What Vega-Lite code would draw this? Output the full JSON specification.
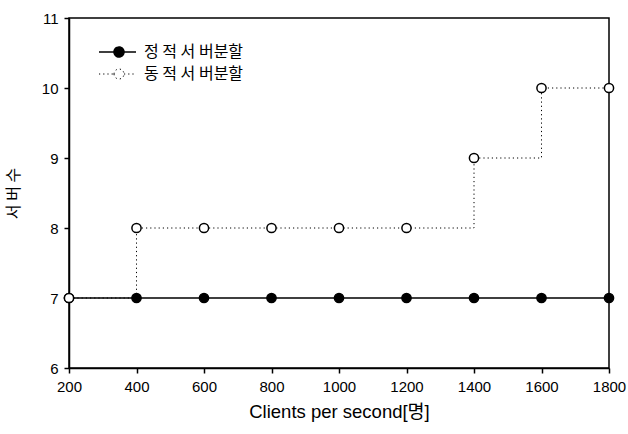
{
  "$schema": "https://vega.github.io/schema/vega-lite/v6.json",
  "width": 540,
  "height": 350,
  "padding": {"left": 5, "top": 11, "right": 15, "bottom": 5},
  "background": "white",
  "config": {
    "view": {"stroke": "black", "strokeWidth": 1.5},
    "font": "Arial, 'Liberation Sans', 'Noto Sans CJK KR', sans-serif",
    "axis": {
      "grid": false,
      "domainColor": "black",
      "domainWidth": 1.5,
      "tickColor": "black",
      "tickWidth": 1.5,
      "tickSize": 5,
      "labelColor": "black",
      "labelFont": "Arial, 'Liberation Sans', sans-serif",
      "labelFontSize": 15,
      "labelFlush": false,
      "format": "d",
      "titleColor": "black",
      "titleFont": "Arial, 'Liberation Sans', 'Noto Sans CJK KR', sans-serif",
      "titleFontSize": 18.5,
      "titleFontWeight": "normal"
    },
    "legend": {
      "labelFont": "'Noto Sans CJK KR', sans-serif",
      "labelFontSize": 16,
      "labelColor": "black"
    }
  },
  "data": {
    "values": [
      {"clients": 200, "servers": 7, "series": "정 적 서 버분할"},
      {"clients": 400, "servers": 7, "series": "정 적 서 버분할"},
      {"clients": 600, "servers": 7, "series": "정 적 서 버분할"},
      {"clients": 800, "servers": 7, "series": "정 적 서 버분할"},
      {"clients": 1000, "servers": 7, "series": "정 적 서 버분할"},
      {"clients": 1200, "servers": 7, "series": "정 적 서 버분할"},
      {"clients": 1400, "servers": 7, "series": "정 적 서 버분할"},
      {"clients": 1600, "servers": 7, "series": "정 적 서 버분할"},
      {"clients": 1800, "servers": 7, "series": "정 적 서 버분할"},
      {"clients": 200, "servers": 7, "series": "동 적 서 버분할"},
      {"clients": 400, "servers": 8, "series": "동 적 서 버분할"},
      {"clients": 600, "servers": 8, "series": "동 적 서 버분할"},
      {"clients": 800, "servers": 8, "series": "동 적 서 버분할"},
      {"clients": 1000, "servers": 8, "series": "동 적 서 버분할"},
      {"clients": 1200, "servers": 8, "series": "동 적 서 버분할"},
      {"clients": 1400, "servers": 9, "series": "동 적 서 버분할"},
      {"clients": 1600, "servers": 10, "series": "동 적 서 버분할"},
      {"clients": 1800, "servers": 10, "series": "동 적 서 버분할"}
    ]
  },
  "encoding": {
    "x": {
      "field": "clients",
      "type": "quantitative",
      "scale": {"domain": [200, 1800], "nice": false, "zero": false},
      "axis": {"values": [200, 400, 600, 800, 1000, 1200, 1400, 1600, 1800], "title": "Clients per second[명]", "titlePadding": 8, "labelPadding": 6}
    },
    "y": {
      "field": "servers",
      "type": "quantitative",
      "scale": {"domain": [6, 11], "nice": false, "zero": false},
      "axis": {"values": [6, 7, 8, 9, 10, 11], "title": "서 버 수", "titleFont": "'Noto Sans CJK KR', sans-serif", "titleFontSize": 16, "titlePadding": 20, "labelPadding": 6}
    }
  },
  "layer": [
    {
      "mark": {"type": "line", "interpolate": "step-after", "color": "black"},
      "encoding": {
        "strokeDash": {
          "field": "series",
          "type": "nominal",
          "sort": ["정 적 서 버분할", "동 적 서 버분할"],
          "scale": {"domain": ["정 적 서 버분할", "동 적 서 버분할"], "range": [[1, 0], [1.2, 3]]},
          "legend": {
            "title": null,
            "orient": "top-left",
            "offset": 26,
            "symbolType": "M-0.8,0H2.2M4.2,0H6.6M2.2,0A1,1 0 1,0 4.2,0A1,1 0 1,0 2.2,0",
            "symbolSize": 100,
            "symbolStrokeColor": "black",
            "symbolStrokeWidth": 1.3,
            "labelOffset": 33,
            "rowPadding": 6
          }
        },
        "strokeWidth": {
          "field": "series",
          "type": "nominal",
          "scale": {"domain": ["정 적 서 버분할", "동 적 서 버분할"], "range": [1.5, 1]},
          "legend": null
        }
      }
    },
    {
      "mark": {"type": "point", "shape": "circle", "filled": true, "stroke": "black", "strokeWidth": 1.5, "size": 85, "opacity": 1},
      "encoding": {
        "fill": {
          "field": "series",
          "type": "nominal",
          "sort": ["정 적 서 버분할", "동 적 서 버분할"],
          "scale": {"domain": ["정 적 서 버분할", "동 적 서 버분할"], "range": ["black", "white"]},
          "legend": {
            "title": null,
            "orient": "top-left",
            "offset": 26,
            "symbolType": "M-0.8,0H2.2M4.2,0H6.6M2.2,0A1,1 0 1,0 4.2,0A1,1 0 1,0 2.2,0",
            "symbolSize": 100,
            "symbolStrokeColor": "black",
            "symbolStrokeWidth": 1.3,
            "labelOffset": 33,
            "rowPadding": 6
          }
        }
      }
    }
  ]
}
